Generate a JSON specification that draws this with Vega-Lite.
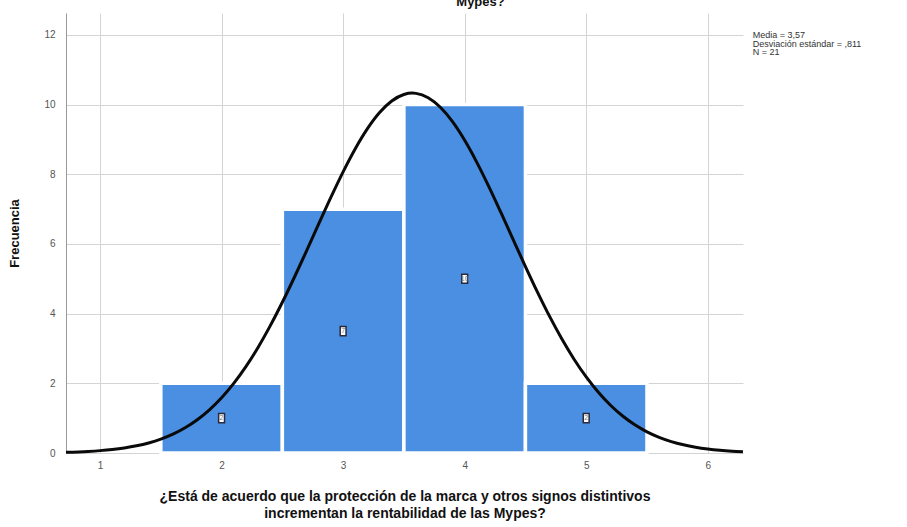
{
  "$schema": "https://vega.github.io/schema/vega-lite/v6.json",
  "autosize": "none",
  "width": 677,
  "height": 440,
  "padding": {"left": 66, "top": 13, "right": 164, "bottom": 74},
  "background": "white",
  "config": {
    "font": "Liberation Sans",
    "view": {"stroke": null},
    "axis": {"gridColor": "#d4d4d4", "gridWidth": 1, "labelColor": "#555", "labelFont": "Liberation Sans", "titleFont": "Liberation Sans", "titleColor": "#111"}
  },
  "title": {"text": "Mypes?", "fontSize": 13, "fontWeight": "bold", "offset": 4, "dx": 76, "color": "#111"},
  "datasets": {
    "bars": [
      {"lo": 1.5, "hi": 2.5, "mid": 2, "count": 2},
      {"lo": 2.5, "hi": 3.5, "mid": 3, "count": 7},
      {"lo": 3.5, "hi": 4.5, "mid": 4, "count": 10},
      {"lo": 4.5, "hi": 5.5, "mid": 5, "count": 2}
    ],
    "curve": [
      {"x": 0.72, "y": 0.0215}, {"x": 0.9, "y": 0.0458}, {"x": 1.0, "y": 0.0682}, {"x": 1.1, "y": 0.1000},
      {"x": 1.2, "y": 0.1445}, {"x": 1.3, "y": 0.2055}, {"x": 1.4, "y": 0.2880}, {"x": 1.5, "y": 0.3975},
      {"x": 1.6, "y": 0.5405}, {"x": 1.7, "y": 0.7237}, {"x": 1.8, "y": 0.9545}, {"x": 1.9, "y": 1.2399},
      {"x": 2.0, "y": 1.5862}, {"x": 2.1, "y": 1.9985}, {"x": 2.2, "y": 2.4800}, {"x": 2.3, "y": 3.0312},
      {"x": 2.4, "y": 3.6490}, {"x": 2.5, "y": 4.3261}, {"x": 2.6, "y": 5.0521}, {"x": 2.7, "y": 5.8106},
      {"x": 2.8, "y": 6.5822}, {"x": 2.9, "y": 7.3434}, {"x": 3.0, "y": 8.0695}, {"x": 3.1, "y": 8.7332},
      {"x": 3.2, "y": 9.3092}, {"x": 3.3, "y": 9.7733}, {"x": 3.4, "y": 10.1057}, {"x": 3.5, "y": 10.2918},
      {"x": 3.57, "y": 10.3302}, {"x": 3.6, "y": 10.3231}, {"x": 3.7, "y": 10.1983}, {"x": 3.8, "y": 9.9231},
      {"x": 3.9, "y": 9.5094}, {"x": 4.0, "y": 8.9756}, {"x": 4.1, "y": 8.3437}, {"x": 4.2, "y": 7.6396},
      {"x": 4.3, "y": 6.8892}, {"x": 4.4, "y": 6.1189}, {"x": 4.5, "y": 5.3527}, {"x": 4.6, "y": 4.6115},
      {"x": 4.7, "y": 3.9132}, {"x": 4.8, "y": 3.2705}, {"x": 4.9, "y": 2.6920}, {"x": 5.0, "y": 2.1826},
      {"x": 5.1, "y": 1.7430}, {"x": 5.2, "y": 1.3706}, {"x": 5.3, "y": 1.0616}, {"x": 5.4, "y": 0.8098},
      {"x": 5.5, "y": 0.6086}, {"x": 5.6, "y": 0.4504}, {"x": 5.7, "y": 0.3284}, {"x": 5.8, "y": 0.2357},
      {"x": 5.9, "y": 0.1666}, {"x": 6.0, "y": 0.1161}, {"x": 6.1, "y": 0.0796}, {"x": 6.2, "y": 0.0537},
      {"x": 6.29, "y": 0.0373}
    ]
  },
  "layer": [
    {
      "data": {"name": "bars"},
      "mark": {"type": "rect", "color": "#4A8FE2", "stroke": "white", "strokeWidth": 3.5},
      "encoding": {
        "x": {"field": "lo", "type": "quantitative",
          "scale": {"domain": [0.72, 6.29], "nice": false, "zero": false},
          "axis": {"values": [1, 2, 3, 4, 5, 6], "format": "d", "domain": false, "ticks": false, "labelFontSize": 10, "labelPadding": 7,
            "title": ["¿Está de acuerdo que la protección de la marca y otros signos distintivos", "incrementan la rentabilidad de las Mypes?"],
            "titleFontSize": 14, "titleFontWeight": "bold", "titlePadding": 19, "titleLineHeight": 17}},
        "x2": {"field": "hi"},
        "y": {"field": "count", "type": "quantitative",
          "scale": {"domain": [0, 12.63], "nice": false},
          "axis": {"values": [0, 2, 4, 6, 8, 10, 12], "domain": true, "domainColor": "#999", "ticks": false, "labelFontSize": 10, "labelPadding": 11,
            "title": "Frecuencia", "titleFontSize": 13, "titleFontWeight": "bold", "titlePadding": 22}},
        "y2": {"datum": 0}
      }
    },
    {
      "data": {"name": "bars"},
      "transform": [{"calculate": "datum.count / 2", "as": "half"}],
      "mark": {"type": "point", "shape": "M-0.45,-0.7H0.45V0.7H-0.45Z", "filled": true, "fill": "white", "stroke": "#2a2a3a", "strokeWidth": 1.5, "size": 170, "opacity": 1},
      "encoding": {
        "x": {"field": "mid", "type": "quantitative"},
        "y": {"field": "half", "type": "quantitative"}
      }
    },
    {
      "data": {"name": "bars"},
      "transform": [{"calculate": "datum.count / 2", "as": "half"}],
      "mark": {"type": "text", "fontSize": 7, "color": "#777", "baseline": "middle", "align": "center"},
      "encoding": {
        "x": {"field": "mid", "type": "quantitative"},
        "y": {"field": "half", "type": "quantitative"},
        "text": {"field": "count", "type": "quantitative"}
      }
    },
    {
      "data": {"name": "curve"},
      "mark": {"type": "line", "color": "#0a0a0a", "strokeWidth": 3, "interpolate": "monotone", "clip": false},
      "encoding": {
        "x": {"field": "x", "type": "quantitative"},
        "y": {"field": "y", "type": "quantitative"}
      }
    },
    {
      "data": {"values": [{"a": 1}]},
      "mark": {"type": "text", "text": ["Media = 3,57", "Desviación estándar = ,811", "N = 21"], "align": "left", "baseline": "top", "fontSize": 9, "lineHeight": 8.5, "color": "#333", "clip": false},
      "encoding": {
        "x": {"datum": 6.37},
        "y": {"datum": 12.1}
      }
    }
  ]
}
